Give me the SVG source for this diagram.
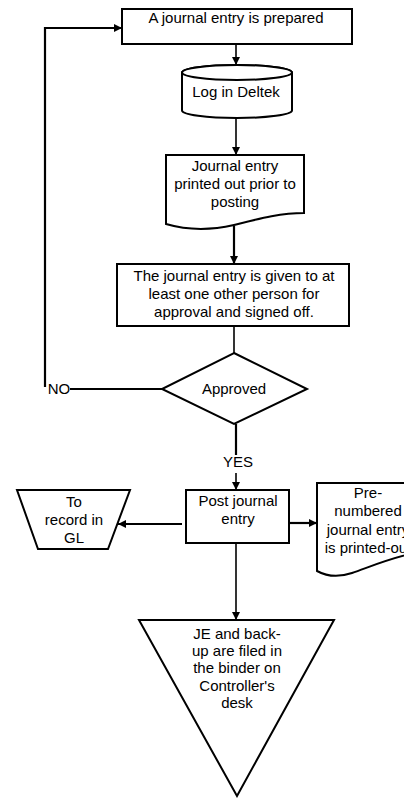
<svg xmlns="http://www.w3.org/2000/svg" width="404" height="798" viewBox="0 0 404 798">
<defs>
<style>
.shape{fill:#fff;stroke:#000;stroke-width:2}
.t{font-family:"Liberation Sans",Arial,sans-serif;font-size:15px;fill:#000;text-anchor:middle}
.c{fill:none;stroke:#000;stroke-width:1.6}
.thick{stroke-width:2.2}
</style>
<marker id="arr" viewBox="0 0 10 10" refX="10" refY="5" markerWidth="8" markerHeight="8" markerUnits="userSpaceOnUse" orient="auto">
<path d="M0,0 L10,5 L0,10 Z" fill="#000"/>
</marker>
</defs>
<rect width="404" height="798" fill="#fff"/>
<g id="connectors">
<line class="c" x1="236" y1="44" x2="236" y2="65" marker-end="url(#arr)"/>
<line class="c" x1="236" y1="118" x2="236" y2="155" marker-end="url(#arr)"/>
<line class="c thick" x1="234" y1="226" x2="234" y2="264" marker-end="url(#arr)"/>
<line class="c" x1="234" y1="326" x2="234" y2="353"/>
<polyline class="c thick" points="70,389 162,389"/>
<polyline class="c thick" points="45,387 45,28 122,28" marker-end="url(#arr)"/>
<line class="c thick" x1="236" y1="424" x2="236" y2="455"/>
<line class="c" x1="236" y1="473" x2="236" y2="490" marker-end="url(#arr)"/>
<line class="c thick" x1="182" y1="524" x2="118" y2="524" marker-end="url(#arr)"/>
<line class="c thick" x1="289" y1="523" x2="317" y2="523" marker-end="url(#arr)"/>
<line class="c" x1="236" y1="543" x2="236" y2="620" marker-end="url(#arr)"/>
<text class="t" x="59" y="394">NO</text>
<text class="t" x="238" y="467">YES</text>
</g>
<g id="n1">
<rect class="shape" x="122" y="9" width="230" height="35"/>
<text class="t" x="236" y="23">A journal entry is prepared</text>
</g>
<g id="n2">
<path class="shape" d="M182,72.5 V110.5 A55,7.5 0 0 0 292,110.5 V72.5 A55,7.5 0 0 0 182,72.5 Z"/>
<ellipse class="shape" cx="237" cy="72.5" rx="55" ry="7.5"/>
<text class="t" x="236" y="97">Log in Deltek</text>
</g>
<g id="n3">
<path class="shape" d="M166,155 H304 V213 C280,213 258,219 234,225 C212,230 190,231 166,224 Z"/>
<text class="t" x="235" y="171">Journal entry</text>
<text class="t" x="235" y="189">printed out prior to</text>
<text class="t" x="235" y="207">posting</text>
</g>
<g id="n4">
<rect class="shape" x="117" y="264" width="232" height="62"/>
<text class="t" x="234" y="281">The journal entry is given to at</text>
<text class="t" x="234" y="299">least one other person for</text>
<text class="t" x="234" y="317">approval and signed off.</text>
</g>
<g id="n5">
<polygon class="shape" points="234,353 307,389 234,424 162,389"/>
<text class="t" x="234" y="394">Approved</text>
</g>
<g id="n6">
<rect class="shape" x="186" y="490" width="103" height="53"/>
<text class="t" x="238" y="506">Post journal</text>
<text class="t" x="238" y="524">entry</text>
</g>
<g id="n7">
<polygon class="shape" points="17,490 130,490 108,549 38,549"/>
<text class="t" x="74" y="507">To</text>
<text class="t" x="74" y="525">record in</text>
<text class="t" x="74" y="543">GL</text>
</g>
<g id="n8">
<path class="shape" d="M317,483 H420 V552 C395,556 372,566 352,573 C340,577 328,577 317,571 Z"/>
<text class="t" x="368" y="498">Pre-</text>
<text class="t" x="368" y="516">numbered</text>
<text class="t" x="368" y="535">journal entry</text>
<text class="t" x="368" y="553">is printed-out</text>
</g>
<g id="n9">
<polygon class="shape" points="139,620 334,620 237,796"/>
<text class="t" x="237" y="639">JE and back-</text>
<text class="t" x="237" y="656">up are filed in</text>
<text class="t" x="237" y="673">the binder on</text>
<text class="t" x="237" y="691">Controller's</text>
<text class="t" x="237" y="708">desk</text>
</g>
</svg>
